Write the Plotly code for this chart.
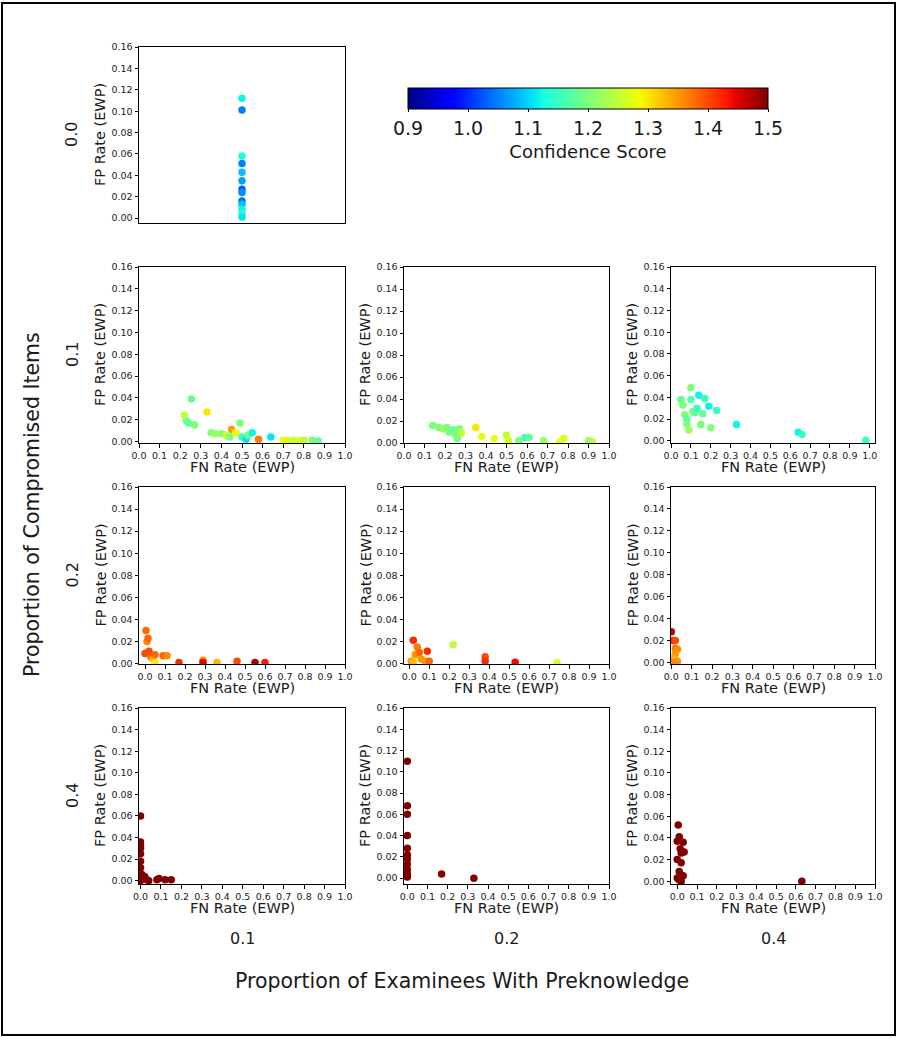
import plotly.graph_objects as go
import numpy as np

W, H = 897, 1038

# ---------------- data ----------------
row_labels = ["0.0", "0.1", "0.2", "0.4"]   # Proportion of Compromised Items
col_labels = ["0.1", "0.2", "0.4"]          # Proportion of Examinees With Preknowledge
y_ticks = [0.00, 0.02, 0.04, 0.06, 0.08, 0.10, 0.12, 0.14, 0.16]
x_ticks = [0.0, 0.1, 0.2, 0.3, 0.4, 0.5, 0.6, 0.7, 0.8, 0.9, 1.0]
cbar_ticks = [0.9, 1.0, 1.1, 1.2, 1.3, 1.4, 1.5]

# row 0.0 / col 0.1
fn_00_01 = [0.5, 0.5, 0.5, 0.5, 0.5, 0.5, 0.5, 0.5, 0.5, 0.5, 0.5, 0.5, 0.5]
fp_00_01 = [0.112, 0.101, 0.058, 0.051, 0.043, 0.035, 0.027, 0.024, 0.016, 0.013, 0.008, 0.004, 0.001]
cs_00_01 = [1.12, 1.05, 1.13, 1.05, 1.09, 1.07, 1.03, 1.06, 1.04, 1.09, 1.12, 1.13, 1.11]

# row 0.1 / col 0.1
fn_01_01 = [0.22, 0.23, 0.24, 0.255, 0.27, 0.33, 0.35, 0.37, 0.40, 0.42, 0.44, 0.45, 0.47, 0.49,
            0.50, 0.52, 0.53, 0.55, 0.58, 0.64, 0.70, 0.72, 0.75, 0.78, 0.80, 0.84, 0.87]
fp_01_01 = [0.024, 0.019, 0.017, 0.039, 0.015, 0.027, 0.008, 0.007, 0.007, 0.006, 0.004, 0.011, 0.008, 0.017,
            0.004, 0.002, 0.006, 0.008, 0.002, 0.004, 0.001, 0.001, 0.001, 0.001, 0.001, 0.001, 0.0005]
cs_01_01 = [1.25, 1.20, 1.18, 1.18, 1.20, 1.30, 1.20, 1.22, 1.20, 1.25, 1.20, 1.35, 1.28, 1.20,
            1.15, 1.11, 1.20, 1.12, 1.37, 1.11, 1.28, 1.27, 1.26, 1.27, 1.25, 1.20, 1.18]

# row 0.1 / col 0.2
fn_01_02 = [0.14, 0.17, 0.19, 0.21, 0.22, 0.24, 0.25, 0.26, 0.27, 0.28, 0.35, 0.38, 0.44, 0.50,
            0.51, 0.56, 0.59, 0.61, 0.68, 0.76, 0.78, 0.90, 0.92]
fp_01_02 = [0.016, 0.014, 0.013, 0.014, 0.010, 0.012, 0.008, 0.004, 0.013, 0.009, 0.014, 0.006, 0.004, 0.007,
            0.002, 0.002, 0.005, 0.005, 0.002, 0.001, 0.004, 0.002, 0.001]
cs_01_02 = [1.20, 1.20, 1.22, 1.20, 1.20, 1.18, 1.20, 1.20, 1.20, 1.25, 1.30, 1.28, 1.28, 1.25,
            1.27, 1.20, 1.15, 1.18, 1.22, 1.28, 1.27, 1.22, 1.25]

# row 0.1 / col 0.4
fn_01_04 = [0.05, 0.06, 0.07, 0.08, 0.08, 0.09, 0.10, 0.10, 0.11, 0.12, 0.13, 0.14, 0.15, 0.16,
            0.17, 0.19, 0.20, 0.23, 0.33, 0.64, 0.66, 0.98]
fp_01_04 = [0.038, 0.033, 0.024, 0.020, 0.015, 0.010, 0.049, 0.038, 0.027, 0.026, 0.030, 0.042, 0.015, 0.025,
            0.039, 0.032, 0.012, 0.028, 0.015, 0.008, 0.006, 0.0005]
cs_01_04 = [1.18, 1.20, 1.20, 1.18, 1.20, 1.22, 1.20, 1.17, 1.20, 1.18, 1.15, 1.12, 1.20, 1.18,
            1.15, 1.12, 1.20, 1.15, 1.12, 1.12, 1.15, 1.15]

# row 0.2 / col 0.1
fn_02_01 = [0.0, 0.005, 0.01, 0.015, 0.02, 0.03, 0.04, 0.05, 0.05, 0.09, 0.11, 0.17, 0.29, 0.29,
            0.36, 0.46, 0.55, 0.60]
fp_02_01 = [0.009, 0.030, 0.020, 0.023, 0.011, 0.006, 0.004, 0.008, 0.001, 0.007, 0.007, 0.001, 0.003, 0.001,
            0.001, 0.002, 0.001, 0.001]
cs_02_01 = [1.40, 1.38, 1.36, 1.38, 1.40, 1.38, 1.33, 1.38, 1.30, 1.38, 1.36, 1.42, 1.35, 1.45,
            1.33, 1.40, 1.48, 1.43]

# row 0.2 / col 0.2
fn_02_02 = [0.01, 0.02, 0.03, 0.04, 0.05, 0.06, 0.02, 0.08, 0.09, 0.10, 0.22, 0.38, 0.38, 0.53, 0.74]
fp_02_02 = [0.002, 0.021, 0.008, 0.015, 0.010, 0.004, 0.001, 0.002, 0.011, 0.002, 0.017, 0.006, 0.002, 0.001, 0.0005]
cs_02_02 = [1.35, 1.42, 1.35, 1.37, 1.38, 1.35, 1.33, 1.35, 1.42, 1.38, 1.25, 1.40, 1.42, 1.44, 1.27]

# row 0.2 / col 0.4
fn_02_04 = [0.0, 0.01, 0.02, 0.02, 0.03, 0.02, 0.01, 0.02, 0.03, 0.01]
fp_02_04 = [0.028, 0.020, 0.020, 0.013, 0.012, 0.008, 0.004, 0.002, 0.001, 0.0]
cs_02_04 = [1.47, 1.42, 1.40, 1.37, 1.36, 1.35, 1.34, 1.33, 1.35, 1.36]

# row 0.4 / col 0.1
fn_04_01 = [0.0, 0.0, 0.0, 0.0, 0.0, 0.0, 0.0, 0.005, 0.01, 0.02, 0.03, 0.04, 0.08, 0.09, 0.12, 0.15, 0.0]
fp_04_01 = [0.060, 0.036, 0.033, 0.030, 0.025, 0.018, 0.012, 0.006, 0.003, 0.004, 0.001, 0.0, 0.001, 0.002,
            0.001, 0.001, 0.0]
cs_04_01 = [1.5] * 17

# row 0.4 / col 0.2
fn_04_02 = [0.0, 0.0, 0.0, 0.0, 0.0, 0.0, 0.0, 0.0, 0.0, 0.0, 0.0, 0.17, 0.33]
fp_04_02 = [0.110, 0.068, 0.060, 0.040, 0.028, 0.022, 0.018, 0.013, 0.008, 0.004, 0.001, 0.004, 0.0]
cs_04_02 = [1.5] * 13

# row 0.4 / col 0.4
fn_04_04 = [0.005, 0.01, 0.0, 0.03, 0.015, 0.02, 0.035, 0.0, 0.02, 0.01, 0.03, 0.0, 0.01, 0.02, 0.63]
fp_04_04 = [0.052, 0.041, 0.037, 0.036, 0.030, 0.026, 0.027, 0.020, 0.017, 0.009, 0.005, 0.003, 0.001, 0.0, 0.0]
cs_04_04 = [1.5] * 15

panels = [
    (0, 0, fn_00_01, fp_00_01, cs_00_01),
    (1, 0, fn_01_01, fp_01_01, cs_01_01),
    (1, 1, fn_01_02, fp_01_02, cs_01_02),
    (1, 2, fn_01_04, fp_01_04, cs_01_04),
    (2, 0, fn_02_01, fp_02_01, cs_02_01),
    (2, 1, fn_02_02, fp_02_02, cs_02_02),
    (2, 2, fn_02_04, fp_02_04, cs_02_04),
    (3, 0, fn_04_01, fp_04_01, cs_04_01),
    (3, 1, fn_04_02, fp_04_02, cs_04_02),
    (3, 2, fn_04_04, fp_04_04, cs_04_04),
]

# ---------------- style / layout (page pixel positions) ----------------
col_px = [(139, 345), (404, 609), (671, 875)]
row_px = [(47, 223), (267, 443), (487, 664), (708, 884)]

def px(p):
    return p / W

def py(p):
    return 1 - p / H

# matplotlib 'jet' colormap
_r = ([0, 0.35, 0.66, 0.89, 1], [0, 0, 1, 1, 0.5])
_g = ([0, 0.125, 0.375, 0.64, 0.91, 1], [0, 0, 1, 1, 0, 0])
_b = ([0, 0.11, 0.34, 0.65, 1], [0.5, 1, 1, 0, 0])
jet = []
for t in np.linspace(0, 1, 65):
    r = np.interp(t, *_r); g = np.interp(t, *_g); b = np.interp(t, *_b)
    jet.append([float(t), "rgb(%d,%d,%d)" % (round(r * 255), round(g * 255), round(b * 255))])

FONT = "DejaVu Sans"
TXT = "#1a1a1a"

def padded_range(vals, lo_fix, hi_fix):
    lo, hi = min(vals), max(vals)
    span = hi - lo
    return [min(lo - 0.05 * span, lo_fix), max(hi + 0.05 * span, hi_fix)]

fig = go.Figure()
layout = {}
annotations = []

for i, (r, c, xs, ys, cs) in enumerate(panels):
    n = i + 1
    xa = "xaxis" if n == 1 else "xaxis%d" % n
    ya = "yaxis" if n == 1 else "yaxis%d" % n
    xref = "x" if n == 1 else "x%d" % n
    yref = "y" if n == 1 else "y%d" % n
    x0, x1 = col_px[c]
    y0, y1 = row_px[r]

    fig.add_trace(go.Scatter(
        x=xs, y=ys, mode="markers", xaxis=xref, yaxis=yref,
        marker=dict(size=7.5, color=cs, coloraxis="coloraxis", line=dict(width=0)),
        showlegend=False, hoverinfo="x+y",
    ))

    common = dict(showline=True, mirror=True, linecolor="black", linewidth=1,
                  showgrid=False, zeroline=False, ticks="outside", ticklen=3.5,
                  tickwidth=0.8, tickcolor="black",
                  tickfont=dict(size=9.5, color=TXT, family=FONT), automargin=False)
    if r == 0:
        layout[xa] = dict(domain=[px(x0), px(x1)], anchor=yref, range=[0.475, 0.525],
                          showticklabels=False, ticks="", showline=True, mirror=True,
                          linecolor="black", linewidth=1, showgrid=False, zeroline=False,
                          automargin=False)
    else:
        layout[xa] = dict(domain=[px(x0), px(x1)], anchor=yref,
                          range=padded_range(xs, 0.0, 1.0),
                          tickvals=x_ticks, tickformat=".1f", **common)
        annotations.append(dict(text="FN Rate (EWP)", xref="paper", yref="paper",
                                x=px((x0 + x1) / 2), y=py(y1 + 24),
                                xanchor="center", yanchor="middle", showarrow=False,
                                font=dict(size=14.5, color=TXT, family=FONT)))
    layout[ya] = dict(domain=[py(y1), py(y0)], anchor=xref,
                      range=padded_range(ys, 0.0, 0.16),
                      tickvals=y_ticks, tickformat=".2f", **common)
    annotations.append(dict(text="FP Rate (EWP)", xref="paper", yref="paper",
                            x=px(x0 - 39), y=py((y0 + y1) / 2), textangle=-90,
                            xanchor="center", yanchor="middle", showarrow=False,
                            font=dict(size=14.5, color=TXT, family=FONT)))

for r, lab in enumerate(row_labels):
    y0, y1 = row_px[r]
    annotations.append(dict(text=lab, xref="paper", yref="paper", x=px(72),
                            y=py((y0 + y1) / 2), textangle=-90, xanchor="center",
                            yanchor="middle", showarrow=False,
                            font=dict(size=16, color=TXT, family=FONT)))
for c, lab in enumerate(col_labels):
    x0, x1 = col_px[c]
    annotations.append(dict(text=lab, xref="paper", yref="paper", x=px((x0 + x1) / 2),
                            y=py(938), xanchor="center", yanchor="middle",
                            showarrow=False, font=dict(size=16, color=TXT, family=FONT)))

annotations.append(dict(text="Proportion of Compromised Items", xref="paper", yref="paper",
                        x=px(32), y=py(505), textangle=-90, xanchor="center",
                        yanchor="middle", showarrow=False,
                        font=dict(size=20.5, color=TXT, family=FONT)))
annotations.append(dict(text="Proportion of Examinees With Preknowledge", xref="paper",
                        yref="paper", x=px(462), y=py(981), xanchor="center",
                        yanchor="middle", showarrow=False,
                        font=dict(size=20.5, color=TXT, family=FONT)))

layout["coloraxis"] = dict(
    colorscale=jet, cmin=0.9, cmax=1.5,
    colorbar=dict(orientation="h", x=px((408 + 768) / 2), xanchor="center",
                  y=py(88), yanchor="top", len=360 / W, lenmode="fraction",
                  thickness=21, thicknessmode="pixels", outlinewidth=1,
                  outlinecolor="black", xpad=0, ypad=0,
                  tickvals=cbar_ticks, tickformat=".1f", ticks="outside", ticklen=3,
                  tickcolor="black",
                  tickfont=dict(size=19, color=TXT, family=FONT),
                  title=dict(text="Confidence Score", side="bottom",
                             font=dict(size=18, color=TXT, family=FONT))),
)

fig.update_layout(
    width=W, height=H, margin=dict(l=0, r=0, t=0, b=0),
    paper_bgcolor="white", plot_bgcolor="white",
    font=dict(family=FONT, color=TXT),
    annotations=annotations,
    shapes=[dict(type="rect", xref="paper", yref="paper",
                 x0=px(2), x1=px(895), y0=py(1035), y1=py(3),
                 line=dict(color="black", width=2), fillcolor="rgba(0,0,0,0)")],
    **layout,
)

# remove the default 8px body margin of the page so the figure fills the window exactly
fig.write_html("out.html", config={"displayModeBar": False},
               post_script="document.body.style.margin='0';document.body.style.overflow='hidden';")
